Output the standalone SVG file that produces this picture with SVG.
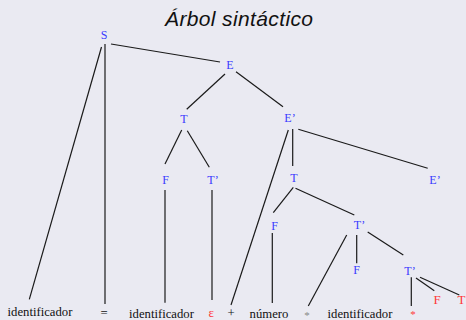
<svg xmlns="http://www.w3.org/2000/svg" width="466" height="320" viewBox="0 0 466 320">
<style>
.n{font-family:"Liberation Serif","Times New Roman",serif;font-size:12px;fill:#3a3aff;text-anchor:middle}
.r{font-family:"Liberation Serif","Times New Roman",serif;font-size:13px;fill:#ff3838;text-anchor:middle}
.t{font-family:"Liberation Serif","Times New Roman",serif;font-size:12.7px;fill:#111;text-anchor:middle}
.s{font-family:"Liberation Serif","Times New Roman",serif;font-size:11px;text-anchor:middle}
.e line{stroke:#1a1a1a;stroke-width:1.2}
</style>
<rect width="466" height="320" fill="#eaeaf2"/>
<text x="239" y="26" font-family="'Liberation Sans',Arial,sans-serif" font-style="italic" font-size="21" text-anchor="middle" fill="#111" textLength="148">Árbol sintáctico</text>
<g id="connectors" class="e">
<line x1="111" y1="44" x2="220" y2="62"/>
<line x1="101.5" y1="47" x2="29.3" y2="299.3"/>
<line x1="105" y1="44" x2="105" y2="304"/>
<line x1="225" y1="74" x2="186.7" y2="109.3"/>
<line x1="236" y1="71.7" x2="283" y2="106.7"/>
<line x1="181.7" y1="130" x2="165" y2="164"/>
<line x1="187.3" y1="130.7" x2="209.3" y2="167.3"/>
<line x1="165" y1="190" x2="165" y2="302.7"/>
<line x1="212" y1="190" x2="212" y2="300"/>
<line x1="288.3" y1="130" x2="231" y2="305"/>
<line x1="292.7" y1="129" x2="292.7" y2="166"/>
<line x1="298.3" y1="129.3" x2="427.7" y2="168.3"/>
<line x1="293.3" y1="187.3" x2="273.3" y2="212.7"/>
<line x1="295.5" y1="188.3" x2="354.3" y2="215"/>
<line x1="272.3" y1="233" x2="272.3" y2="303"/>
<line x1="346.7" y1="235" x2="308.3" y2="306"/>
<line x1="356.7" y1="235" x2="356.7" y2="263.3"/>
<line x1="367.7" y1="232" x2="403.3" y2="255"/>
<line x1="411.3" y1="277.3" x2="411.3" y2="306"/>
<line x1="416" y1="278" x2="434.3" y2="290.7"/>
<line x1="420" y1="277.3" x2="459.3" y2="295"/>
</g>
<g id="S"><text class="n" x="104" y="39">S</text></g>
<g id="E"><text class="n" x="230" y="69">E</text></g>
<g id="T1"><text class="n" x="184" y="123">T</text></g>
<g id="Ep1"><text class="n" x="290" y="122">E’</text></g>
<g id="F1"><text class="n" x="165.5" y="184">F</text></g>
<g id="Tp1"><text class="n" x="213" y="184">T’</text></g>
<g id="T2"><text class="n" x="294" y="182">T</text></g>
<g id="Ep2"><text class="n" x="435" y="184">E’</text></g>
<g id="F2"><text class="n" x="274.7" y="230">F</text></g>
<g id="Tp2"><text class="n" x="359.5" y="229">T’</text></g>
<g id="F3"><text class="n" x="356.5" y="274">F</text></g>
<g id="Tp3"><text class="n" x="410" y="275">T’</text></g>
<g id="Fr"><text class="r" x="437" y="303.5">F</text></g>
<g id="Tr"><text class="r" x="461.5" y="303.5">T</text></g>
<g id="id1"><text class="t" x="40" y="316">identificador</text></g>
<g id="eq"><text class="t" x="104" y="317">=</text></g>
<g id="id2"><text class="t" x="161.5" y="318">identificador</text></g>
<g id="eps"><text class="r" x="211.3" y="317">ε</text></g>
<g id="plus"><text class="t" x="231" y="317">+</text></g>
<g id="num"><text class="t" x="269" y="318">número</text></g>
<g id="star1"><text class="s" fill="#888" x="307" y="319">*</text></g>
<g id="id3"><text class="t" x="360" y="318">identificador</text></g>
<g id="star2"><text class="s" fill="#ff3838" x="413" y="317.5">*</text></g>
</svg>
